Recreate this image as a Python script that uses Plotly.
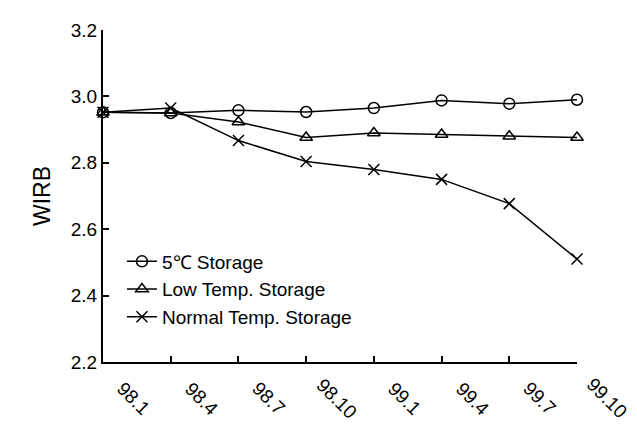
import plotly.graph_objects as go

labels = ["98.1", "98.4", "98.7", "98.10", "99.1", "99.4", "99.7", "99.10"]
x_pos = [0, 1, 2, 3, 4, 5, 6, 7]
storage_5c = [2.952, 2.950, 2.958, 2.953, 2.965, 2.988, 2.978, 2.990]
storage_low = [2.952, 2.950, 2.923, 2.876, 2.890, 2.885, 2.880, 2.876]
storage_normal = [2.952, 2.965, 2.867, 2.804, 2.780, 2.750, 2.677, 2.510]

fig = go.Figure()
series = [
    ("5\u2103 Storage", storage_5c, "circle-open"),
    ("Low Temp. Storage", storage_low, "triangle-up-open"),
    ("Normal Temp. Storage", storage_normal, "x-thin-open"),
]
for name, ys, sym in series:
    fig.add_trace(go.Scatter(
        x=x_pos, y=ys, name=name, mode="lines+markers",
        line=dict(color="black", width=1.5),
        marker=dict(symbol=sym, size=11, color="black", line=dict(width=1.5, color="black")),
        cliponaxis=False,
    ))

for i, lab in enumerate(labels):
    fig.add_annotation(x=(i + 0.45) / 7, y=-0.11, xref="paper", yref="paper", text=lab,
                       showarrow=False, textangle=45, xanchor="center", yanchor="middle",
                       font=dict(size=19, color="black"))

fig.update_layout(
    width=637, height=434, paper_bgcolor="white", plot_bgcolor="white",
    margin=dict(l=95, r=68, t=20, b=80),
    font=dict(family="Liberation Sans, Arial", size=19, color="black"),
    legend=dict(x=0.04, y=0.36, xanchor="left", yanchor="top", bgcolor="rgba(0,0,0,0)",
                font=dict(size=19), tracegroupgap=0, itemwidth=30),
)
fig.update_xaxes(range=[0, 7], tickvals=x_pos[1:], showticklabels=False, ticks="inside",
                 ticklen=6, tickcolor="black", tickwidth=2, showline=True, linecolor="black",
                 linewidth=2, showgrid=False, zeroline=False)
fig.update_yaxes(range=[2.2, 3.2], dtick=0.2, tickformat=".1f", ticks="inside", ticklen=6,
                 tickcolor="black", tickwidth=2, showline=True, linecolor="black", linewidth=2,
                 showgrid=False, zeroline=False, title=dict(text="WIRB", standoff=14),
                 tickfont=dict(size=19))
fig.write_html("out.html")
